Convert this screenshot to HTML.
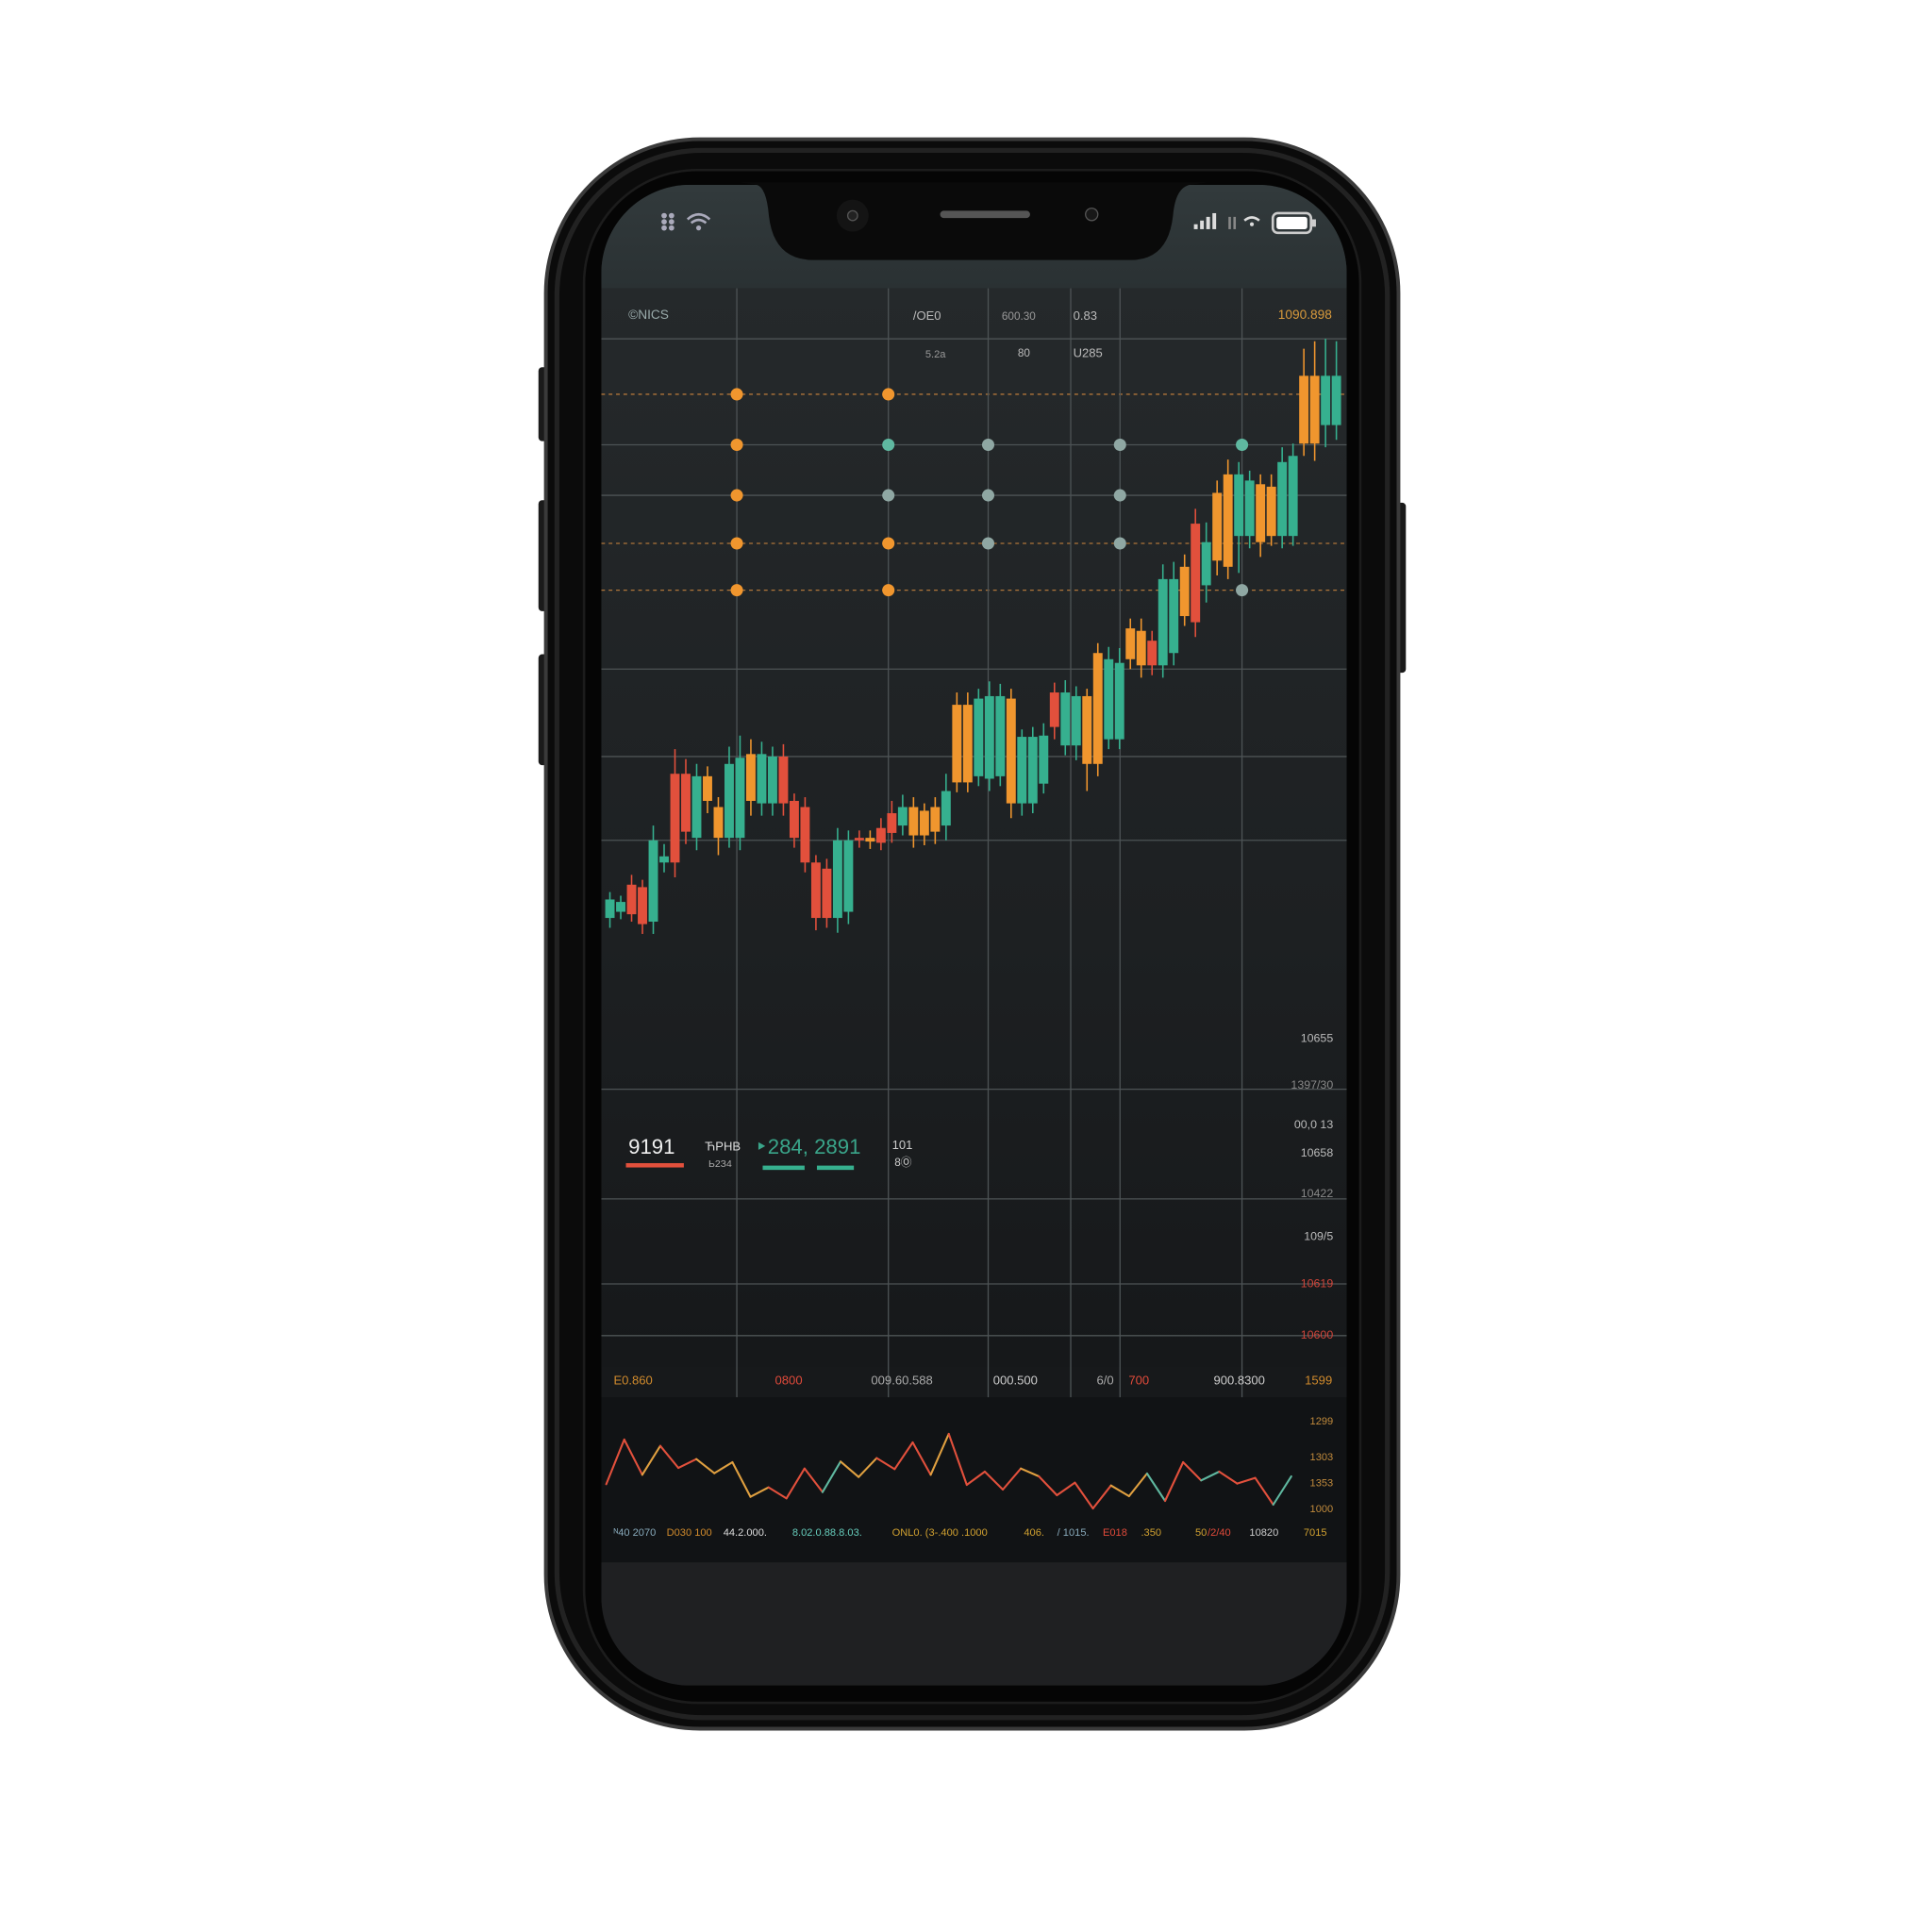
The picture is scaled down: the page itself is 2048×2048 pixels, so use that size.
<!DOCTYPE html>
<html><head><meta charset="utf-8"><style>
html,body{margin:0;padding:0;background:#fff;width:2048px;height:2048px;overflow:hidden}
svg{display:block}
text{font-family:"Liberation Sans",sans-serif}
</style></head><body>
<svg id="s" width="2048" height="2048" viewBox="0 0 1568 1568" xmlns="http://www.w3.org/2000/svg">
<defs>
<linearGradient id="chartBg" x1="0" y1="0" x2="0" y2="1">
<stop offset="0" stop-color="#25292b"/><stop offset="0.6" stop-color="#1d2022"/><stop offset="1" stop-color="#16181a"/></linearGradient>
<linearGradient id="statusBg" x1="0" y1="0" x2="0" y2="1">
<stop offset="0" stop-color="#323a3c"/><stop offset="1" stop-color="#2a3133"/></linearGradient>
<clipPath id="screenClip"><rect x="488" y="150" width="605" height="1218" rx="72"/></clipPath>
</defs>
<g>
<rect x="437" y="298" width="8" height="60" rx="3" fill="#1a1a1a"/>
<rect x="437" y="406" width="8" height="90" rx="3" fill="#1a1a1a"/>
<rect x="437" y="531" width="8" height="90" rx="3" fill="#1a1a1a"/>
<rect x="1133" y="408" width="8" height="138" rx="3" fill="#1a1a1a"/>
</g>
<rect x="443" y="113" width="692" height="1290" rx="125" fill="#0b0b0b" stroke="#3a3a3a" stroke-width="3"/>
<rect x="452" y="122" width="674" height="1272" rx="118" fill="none" stroke="#222" stroke-width="4"/>
<rect x="474" y="138" width="630" height="1244" rx="92" fill="#050505" stroke="#1c1c1c" stroke-width="2"/>
<g clip-path="url(#screenClip)">
<rect x="488" y="150" width="605" height="1218" fill="#1f2022"/>
<rect x="488" y="150" width="605" height="84" fill="url(#statusBg)"/>
<rect x="488" y="234" width="605" height="876" fill="url(#chartBg)"/>
<rect x="488" y="1110" width="605" height="24" fill="#17191b"/>
<rect x="488" y="1134" width="605" height="134" fill="#111315"/>
<g id="grid"></g>
<g id="dots"></g>
<g id="candles"></g>
<g id="line"></g>
<g id="labels"></g>
</g>
<path d="M600 148 L614 150 Q622 152 624 175 Q628 211 660 211 L918 211 Q948 211 952 175 Q954 152 966 150 L980 148 Z" fill="#0a0a0a"/>
<circle cx="692" cy="175" r="13" fill="#141414"/>
<circle cx="692" cy="175" r="4" fill="#222" stroke="#555" stroke-width="1"/>
<rect x="763" y="171" width="73" height="6" rx="3" fill="#555"/>
<circle cx="886" cy="174" r="5" fill="#181818" stroke="#555" stroke-width="1"/>
<g fill="#aab">
<circle cx="539" cy="175" r="2.2"/><circle cx="545" cy="175" r="2.2"/><circle cx="539" cy="180" r="2.2"/><circle cx="545" cy="180" r="2.2"/><circle cx="539" cy="185" r="2.2"/><circle cx="545" cy="185" r="2.2"/>
<path d="M558 178 Q567 170 576 178" stroke="#aab" stroke-width="2" fill="none"/><path d="M561 181 Q567 176 573 181" stroke="#aab" stroke-width="2" fill="none"/><circle cx="567" cy="185" r="2"/>
</g>
<g fill="#ddd">
<rect x="969" y="182" width="3" height="4"/><rect x="974" y="179" width="3" height="7"/><rect x="979" y="176" width="3" height="10"/><rect x="984" y="173" width="3" height="13"/>
<rect x="997" y="176" width="2" height="10" fill="#888"/><rect x="1001" y="176" width="2" height="10" fill="#888"/>
<path d="M1010 179 Q1016 174 1022 179" stroke="#ddd" stroke-width="2" fill="none"/><circle cx="1016" cy="182" r="1.6"/>
<rect x="1033" y="173" width="31" height="16" rx="4" fill="none" stroke="#ccc" stroke-width="2"/><rect x="1036" y="176" width="25" height="10" rx="2" fill="#fff"/><rect x="1065" y="178" width="3" height="6" fill="#ccc"/>
</g>
</svg>
<script>
// ---- candlestick data (price units) ----
const candleOpen = [55,60,82,80,52,105,172,172,170,170,145,180,185,188,188,186,186,150,145,100,95,118,118,120,120,128,140,145,145,142,145,158,228,228,233,235,235,233,202,202,203,238,238,235,235,270,265,262,290,288,280,330,330,340,375,360,400,415,415,410,407,405,425,430,495,495,495,495];
const candleClose = [70,68,58,50,118,100,100,125,120,150,120,120,120,150,148,148,148,120,100,55,55,55,60,118,117,116,124,130,122,122,125,130,165,165,170,168,170,148,148,148,164,210,195,195,180,180,200,200,265,260,260,260,270,300,295,325,345,340,365,365,360,365,365,365,440,440,455,455];
const wickUp = [6,5,8,6,12,10,20,12,10,8,8,14,18,12,10,8,10,6,8,6,8,10,8,6,6,8,10,10,8,6,8,14,10,10,8,12,10,8,6,8,10,8,10,8,6,8,10,12,8,10,8,12,14,10,12,16,10,12,10,8,8,10,12,10,22,28,30,28];
const wickDn = [8,6,6,8,10,8,12,10,10,10,14,8,10,12,10,10,10,8,8,10,8,12,10,6,6,6,8,8,10,8,10,12,8,8,8,10,8,12,10,8,8,10,8,12,22,10,8,8,8,10,8,10,10,8,12,14,12,10,30,10,12,8,10,8,10,14,18,12];
const candleKind = "ggrrggrrgooggoggrrrrrggrorrgooogoogggogggrggooggoorggorgooggooggoogg".split("");
// ---- dot matrix ----
const dotCols = [598,721,802,909,1008];
const dotRowsPrice = [480,439,398,359,321];
const dotKind = [
 ["o","o","","",""],
 ["o","t","s","s","t"],
 ["o","s","s","s",""],
 ["o","o","s","s",""],
 ["o","o","","","s"]
];
// ---- bottom line chart data ----
const lineVals = [80,222,110,202,132,160,115,150,40,70,35,130,55,152,103,163,128,213,110,240,78,120,63,130,105,45,85,3,76,42,114,27,150,92,120,82,100,15,105];
const segKind = "rryrryyyyrrrtyyrrryrrrryrrrryytrrtrrrt".split("");
// ---- tick labels ----
const rightTicks = [["10655",843,"#bbb"],["1397/30",881,"#888"],["00,0 13",913,"#bbb"],["10658",936,"#bbb"],["10422",969,"#888"],["109/5",1004,"#bbb"],["10619",1042,"#d0453a"],["10600",1084,"#d0453a"]];
const xTicks = [["E0.860",498,"#d08a2c"],["0800",629,"#e04a3a"],["009.60.588",707,"#aaa"],["000.500",806,"#ccc"],["6/0",890,"#aaa"],["700",916,"#e04a3a"],["900.8300",985,"#ccc"],["1599",1059,"#d08a2c"]];
const lineTicks = [["1299",1154],["1303",1183],["1353",1204],["1000",1225]];

const NS="http://www.w3.org/2000/svg";
function mk(tag,attrs,parent){const e=document.createElementNS(NS,tag);for(const k in attrs)e.setAttribute(k,attrs[k]);parent.appendChild(e);return e;}
const yP = p => 800 - p;             // price -> y
const xC = i => 495 + i*8.8;          // candle index -> x
const colors={g:"#36b08f",r:"#e2503c",o:"#f0962e",t:"#5fb8a0",s:"#8fa7a3",y:"#e0a040"};

// grid
const grid=document.getElementById("grid");
[275,361,402,543,614,682,884,973,1042,1084].forEach(y=>{const l=mk("line",{x1:488,x2:1093,y1:y,y2:y,stroke:"#4d5355","stroke-width":1},grid);

});
[320,441,479].forEach(y=>{const l=mk("line",{x1:488,x2:1093,y1:y,y2:y,stroke:"#b0763a","stroke-width":1,"stroke-dasharray":"3 3"},grid);

});
[598,721,802,869,909,1008].forEach(x=>{const l=mk("line",{x1:x,x2:x,y1:234,y2:1134,stroke:"#4d5355","stroke-width":1},grid);

});

// dots
const dg=document.getElementById("dots");
dotRowsPrice.forEach((p,ri)=>dotCols.forEach((x,ci)=>{const k=dotKind[ri][ci];if(!k)return;
const c=mk("circle",{cx:x,cy:yP(p),r:5,fill:colors[k]},dg);

}));

// candles
const cg=document.getElementById("candles");
candleOpen.forEach((o,i)=>{const c=candleClose[i];const x=xC(i);const col=colors[candleKind[i]];
const top=Math.max(o,c),bot=Math.min(o,c);
const w=mk("line",{x1:x,x2:x,y1:yP(top+wickUp[i]),y2:yP(bot-wickDn[i]),stroke:col,"stroke-width":1.2},cg);


const b=mk("rect",{x:x-3.8,y:yP(top),width:7.6,height:Math.max(2,top-bot),fill:col},cg);

});

// line chart
const lg=document.getElementById("line");
const xL=i=>492+i*(1048-492)/(lineVals.length-1);
const yL=v=>1225-v*0.2552;
for(let i=0;i<lineVals.length-1;i++){
const s=mk("line",{x1:xL(i),y1:yL(lineVals[i]),x2:xL(i+1),y2:yL(lineVals[i+1]),stroke:colors[segKind[i]]||"#e8623f","stroke-width":1.6,"stroke-linecap":"round"},lg);

}

// labels
const tg=document.getElementById("labels");
function T(txt,x,y,fill,size,anchor,name){const t=mk("text",{x:x,y:y,fill:fill,"font-size":size,"text-anchor":anchor||"start","dominant-baseline":"middle"},tg);t.textContent=txt;

return t;}
T("©NICS",510,256,"#9aa",10.5,"start","header-symbol");
T("/OE0",741,257,"#bbb",10,"start","header-label");
T("600.30",813,257,"#999",9,"start","header-label");
T("0.83",871,257,"#bbb",10,"start","header-label");
T("1090.898",1081,256,"#d89a3c",10.5,"end","header-price");
T("5.2a",751,288,"#999",8.5,"start","header-sublabel");
T("80",826,287,"#bbb",9,"start","header-sublabel");
T("U285",871,287,"#bbb",10,"start","header-sublabel");
rightTicks.forEach(a=>T(a[0],1082,a[1],a[2],9.5,"end","y-tick-label"));
xTicks.forEach(a=>T(a[0],a[1],1121,a[2],10,"start","x-tick-label"));
lineTicks.forEach(a=>T(a[0],1082,a[1],"#c08a3c",8.5,"end","line-y-tick"));
T("9191",510,932,"#f0f0f0",17,"start","price-value");
T("ЋΡΗΒ",572,931,"#ddd",10,"start","price-unit");
T("Ь2З4",575,945,"#aaa",8,"start","price-subunit");
T("‣284, 2891",613,932,"#3aa58a",17,"start","change-value");
T("101",724,930,"#ccc",10,"start","volume-label");
T("8Ⓞ",726,944,"#ccc",9,"start","volume-sublabel");
const u1=mk("rect",{x:508,y:944,width:47,height:3.5,fill:"#e2503c"},tg);


const u2=mk("rect",{x:619,y:946,width:34,height:3.5,fill:"#36b08f"},tg);


const u3=mk("rect",{x:663,y:946,width:30,height:3.5,fill:"#36b08f"},tg);


const bottomRow=[["ᴺ40 2070",498,"#8ab"],["D030 100",541,"#d08a2c"],["44.2.000.",587,"#ddd"],["8.02.0.88.8.03.",643,"#6cb"],["ONL0. (3-.400 .1000",724,"#d0a030"],["406.",831,"#d0a030"],["/ 1015.",858,"#8ab"],["E018",895,"#e04a3a"],[".350",926,"#d0a030"],["50",970,"#d0a030"],["/2/40",980,"#e04a3a"],["10820",1014,"#ccc"],["7015",1058,"#d0a030"]];
bottomRow.forEach(a=>T(a[0],a[1],1244,a[2],8.5,"start","bottom-axis-label"));
</script>
</body></html>
